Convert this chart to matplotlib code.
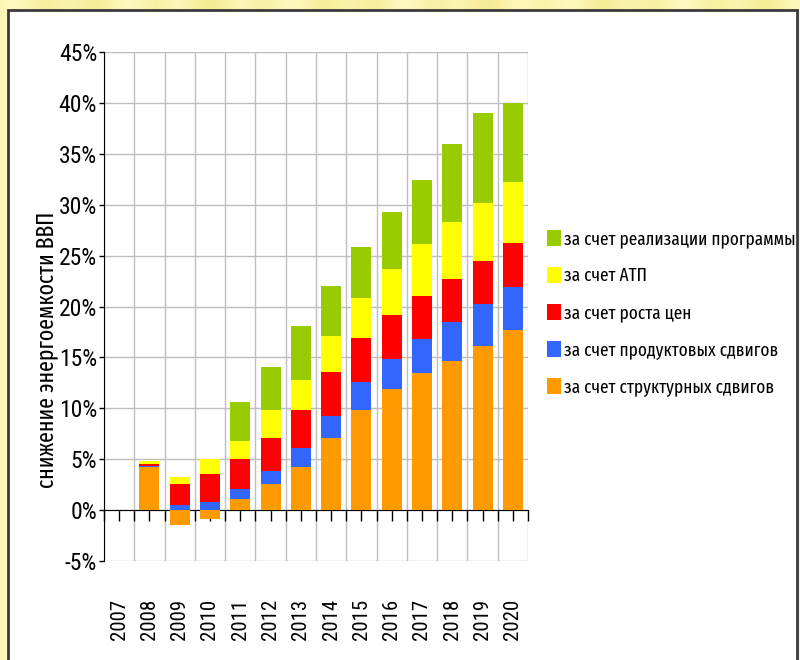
import numpy as np
import matplotlib
matplotlib.use("Agg")
import matplotlib.pyplot as plt
from matplotlib.patches import Rectangle
from matplotlib.colors import LinearSegmentedColormap

# ---- data: decline of GDP energy intensity, % relative to 2007 ----
years = [str(y) for y in range(2007, 2021)]
structural = [0.0, 4.25, -1.5, -0.9, 1.1, 2.58, 4.28, 7.1, 9.85, 11.88, 13.5, 14.67, 16.14, 17.71]
product = [0.0, 0.05, 0.54, 0.77, 0.93, 1.22, 1.8, 2.14, 2.72, 2.92, 3.3, 3.76, 4.1, 4.19]
prices = [0.0, 0.2, 2.03, 2.82, 3.0, 3.3, 3.73, 4.31, 4.29, 4.32, 4.2, 4.29, 4.19, 4.33]
atp = [0.0, 0.35, 0.66, 1.47, 1.72, 2.7, 2.99, 3.52, 3.97, 4.56, 5.1, 5.54, 5.76, 5.99]
program = [0.0, 0.0, 0.0, 0.0, 3.85, 4.3, 5.27, 4.99, 4.97, 5.6, 6.35, 7.69, 8.84, 7.79]

labels = ["за счет структурных сдвигов", "за счет продуктовых сдвигов",
          "за счет роста цен", "за счет АТП", "за счет реализации программы"]
colors = ["#FF9900", "#3366FF", "#FF0000", "#FFFF00", "#99CC00"]
yticks = list(range(-5, 50, 5))
ylabel = "снижение энергоемкости ВВП"

plt.rcParams["font.family"] = ["Roboto Condensed", "PT Sans Narrow", "DejaVu Sans"]
narrow_text = ["Fira Sans Extra Condensed", "Roboto Condensed", "DejaVu Sans"]

fig = plt.figure(figsize=(8, 6.6), dpi=100)

# textured yellow backdrop with a white slide panel
bg = fig.add_axes([0, 0, 1, 1], zorder=-10)
xs = np.linspace(0, 1, 800)
shade = 0.5 + 0.25 * np.sin(xs * 90) + 0.25 * np.sin(xs * 37 + 1.3)
tex = np.tile(shade, (660, 1))
cmap = LinearSegmentedColormap.from_list("paper", ["#F6EC96", "#FFF9C0"])
bg.imshow(tex, cmap=cmap, aspect="auto", extent=[0, 1, 0, 1])
bg.add_patch(Rectangle((8 / 800, -0.1), 789 / 800, 1.1 - 10 / 660,
                       facecolor="white", edgecolor="#3A3A3A", linewidth=2))
bg.set_xlim(0, 1)
bg.set_ylim(0, 1)
bg.axis("off")

ax = fig.add_axes([104 / 800, 1 - 561 / 660, 424 / 800, 509 / 660])
ax.set_facecolor("white")

x = np.arange(len(years))
series = [structural, product, prices, atp, program]
pos_base = np.zeros(len(years))
neg_base = np.zeros(len(years))
handles = []
for vals, col, lab in zip(series, colors, labels):
    v = np.array(vals, dtype=float)
    bottom = np.where(v >= 0, pos_base, neg_base)
    h = ax.bar(x, v, width=0.66, bottom=bottom, color=col, label=lab,
               linewidth=0, zorder=3)
    handles.append(h)
    pos_base = pos_base + np.where(v > 0, v, 0)
    neg_base = neg_base + np.where(v < 0, v, 0)

ax.set_xlim(-0.5, len(years) - 0.5)
ax.set_ylim(-5, 45)
ax.set_yticks(yticks)
ax.set_yticklabels([f"{t}%" for t in yticks], fontsize=17)
ax.tick_params(axis="y", direction="out", length=3.5, width=1, pad=1.5, color="black")

# category axis sits on the zero line, ticks at centres and boundaries
ax.spines["bottom"].set_position(("data", 0))
ax.spines["bottom"].set_color("black")
ax.spines["left"].set_color("black")
ax.spines["top"].set_visible(False)
ax.spines["right"].set_visible(False)
ax.set_xticks(x)
ax.set_xticks(np.arange(-0.5, len(years), 1.0), minor=True)
ax.tick_params(axis="x", which="both", direction="out", length=8, width=1,
               color="black", labelbottom=False)

ax.grid(axis="y", which="major", color="#BEBEBE", linewidth=1, zorder=0)
ax.grid(axis="x", which="minor", color="#BEBEBE", linewidth=1, zorder=0)
ax.grid(axis="x", which="major", visible=False)
ax.set_axisbelow(True)

# year labels under the plot area
sec = ax.secondary_xaxis(0.0)
sec.set_xticks(x)
sec.set_xticklabels(years, rotation=90, fontsize=15)
sec.tick_params(length=0, pad=27)
sec.spines["bottom"].set_visible(False)

fig.text(46 / 800, 1 - 350 / 660, ylabel, rotation=90, fontsize=17,
         family=narrow_text, ha="center", va="center")

leg = fig.legend(handles[::-1], labels[::-1], loc="upper left",
                 bbox_to_anchor=(539 / 800, 1 - 222 / 660), frameon=False,
                 prop={"family": narrow_text, "size": 13.5},
                 handlelength=0.78, handleheight=0.95,
                 handletextpad=0.15, labelspacing=1.0, borderaxespad=0)

fig.savefig("out.png", dpi=100)
